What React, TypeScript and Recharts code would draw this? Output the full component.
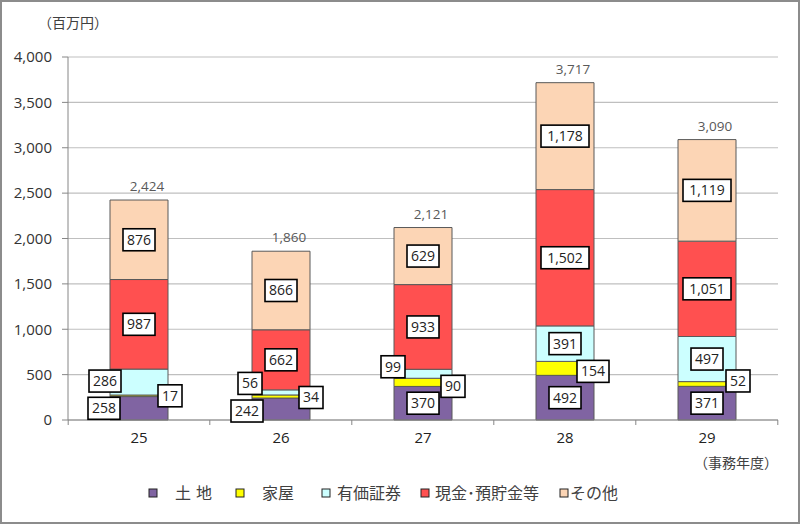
import React from "react";
import {
  BarChart,
  Bar,
  XAxis,
  YAxis,
  CartesianGrid,
  Legend,
  LabelList,
} from "recharts";

const years = ["25", "26", "27", "28", "29"];
const land = [258, 242, 370, 492, 371];
const house = [17, 34, 90, 154, 52];
const securities = [286, 56, 99, 391, 497];
const cash = [987, 662, 933, 1502, 1051];
const other = [876, 866, 629, 1178, 1119];
const yTicks = [0, 500, 1000, 1500, 2000, 2500, 3000, 3500, 4000];

const SERIES = [
  { key: "land", name: "土地", color: "#8064A2" },
  { key: "house", name: "家屋", color: "#FFFF00" },
  { key: "securities", name: "有価証券", color: "#CCFFFF" },
  { key: "cash", name: "現金･預貯金等", color: "#FF5050" },
  { key: "other", name: "その他", color: "#FCD5B5" },
];

const data = years.map((year, i) => ({
  year,
  land: land[i],
  house: house[i],
  securities: securities[i],
  cash: cash[i],
  other: other[i],
}));

const totals = years.map(
  (_, i) => land[i] + house[i] + securities[i] + cash[i] + other[i]
);

// label boxes that were dragged off the bar in the original
const LABEL_SHIFT: Record<string, [number, number][]> = {
  land: [[-35, 0], [-34, 2], [0, 0], [0, 0], [0, 0]],
  house: [[31, 0], [30, 1], [30, 4], [28, 3], [31, -3]],
  securities: [[-34, -1], [-31, -9], [-30, -7], [0, 0], [0, 0]],
  cash: [[0, 0], [0, 0], [0, 0], [0, 0], [0, 0]],
  other: [[0, 0], [0, 0], [0, 0], [0, 0], [0, 0]],
};

const FONT = "'Open Sans', 'Noto Sans CJK JP', sans-serif";
const fmt = (v: number) => v.toLocaleString("en-US");

function BoxLabel(props: any) {
  const { x, y, width, height, value, index, seriesKey } = props;
  const [dx, dy] = LABEL_SHIFT[seriesKey][index] || [0, 0];
  const cx = Number(x) + Number(width) / 2 + dx;
  const cy = Number(y) + Number(height) / 2 + dy;
  const text = fmt(Number(value));
  const w = text.length * 8 + 8;
  const h = 22;
  return (
    <g>
      <rect
        x={cx - w / 2}
        y={cy - h / 2}
        width={w}
        height={h}
        fill="#fff"
        stroke="#000"
        strokeWidth={1.6}
      />
      <text
        x={cx}
        y={cy + 5}
        textAnchor="middle"
        fontSize={14}
        fontFamily={FONT}
        fill="#222"
      >
        {text}
      </text>
    </g>
  );
}

function TotalLabel(props: any) {
  const { x, y, width, index } = props;
  return (
    <text
      x={Number(x) + Number(width) / 2 + 8}
      y={Number(y) - 9}
      textAnchor="middle"
      fontSize={13.5}
      fontFamily={FONT}
      fill="#595959"
    >
      {fmt(totals[index])}
    </text>
  );
}

const BAND = 708 / years.length;

function YearTick(props: any) {
  const { x, y, payload, index } = props;
  return (
    <g>
      {index === 0 && (
        <line x1={x - BAND / 2} x2={x - BAND / 2} y1={y - 8} y2={y - 3} stroke="#868686" />
      )}
      <line x1={x + BAND / 2} x2={x + BAND / 2} y1={y - 8} y2={y - 3} stroke="#868686" />
      <text
        x={x}
        y={y + 15}
        textAnchor="middle"
        fontSize={15}
        fontFamily={FONT}
        fill="#222"
      >
        {payload.value}
      </text>
    </g>
  );
}

const LEGEND_X = [149, 236, 322, 421, 560];
const LEGEND_TEXT_X = [175, 262, 337, 435, 570];

function LegendBox() {
  return (
    <svg width={800} height={30}>
      {SERIES.map((s, i) => (
        <g key={s.key}>
          <rect
            x={LEGEND_X[i]}
            y={9}
            width={8}
            height={8}
            fill={s.color}
            stroke="#222"
            strokeWidth={1}
          />
          <text
            x={LEGEND_TEXT_X[i]}
            y={19}
            fontSize={16}
            fontFamily={FONT}
            fill="#404040"
            letterSpacing={i === 0 ? 5 : 0}
          >
            {s.name}
          </text>
        </g>
      ))}
    </svg>
  );
}

export default function App() {
  return (
    <div
      style={{
        position: "absolute",
        left: 0,
        top: 0,
        width: 800,
        height: 524,
        background: "#fff",
        fontFamily: FONT,
      }}
    >
      <BarChart
        width={800}
        height={524}
        data={data}
        margin={{ top: 57, right: 22, bottom: 74, left: 0 }}
      >
        <CartesianGrid vertical={false} stroke="#BFBFBF" strokeWidth={1.2} />
        <XAxis
          dataKey="year"
          height={30}
          axisLine={{ stroke: "#868686" }}
          tickLine={false}
          tick={<YearTick />}
          interval={0}
        />
        <YAxis
          width={68}
          domain={[0, 4000]}
          ticks={yTicks}
          tickFormatter={fmt}
          axisLine={{ stroke: "#868686" }}
          tickLine={{ stroke: "#868686" }}
          tickSize={6}
          tickMargin={10}
          tick={{ fontSize: 15, fill: "#333", fontFamily: FONT }}
          interval={0}
        />
        <Legend
          verticalAlign="middle"
          align="center"
          layout="horizontal"
          wrapperStyle={{ top: 480, left: 0, width: 800 }}
          content={() => <LegendBox />}
        />
        {SERIES.map((s) => (
          <Bar
            key={s.key}
            dataKey={s.key}
            name={s.name}
            stackId="a"
            fill={s.color}
            stroke="#595959"
            strokeWidth={1}
            barSize={58}
            isAnimationActive={false}
          >
            <LabelList
              dataKey={s.key}
              content={(p: any) => <BoxLabel {...p} seriesKey={s.key} />}
            />
            {s.key === "other" && (
              <LabelList dataKey="other" content={(p: any) => <TotalLabel {...p} />} />
            )}
          </Bar>
        ))}
      </BarChart>
      <div
        style={{
          position: "absolute",
          left: 38,
          top: 12,
          fontSize: 14,
          color: "#404040",
          fontFamily: FONT,
        }}
      >
        （百万円）
      </div>
      <div
        style={{
          position: "absolute",
          left: 694,
          top: 452,
          fontSize: 14,
          color: "#404040",
          fontFamily: FONT,
        }}
      >
        （事務年度）
      </div>
      <div
        style={{
          position: "absolute",
          left: 0,
          top: 0,
          width: 800,
          height: 524,
          boxSizing: "border-box",
          border: "2px solid #8c8c8c",
          pointerEvents: "none",
        }}
      />
    </div>
  );
}
